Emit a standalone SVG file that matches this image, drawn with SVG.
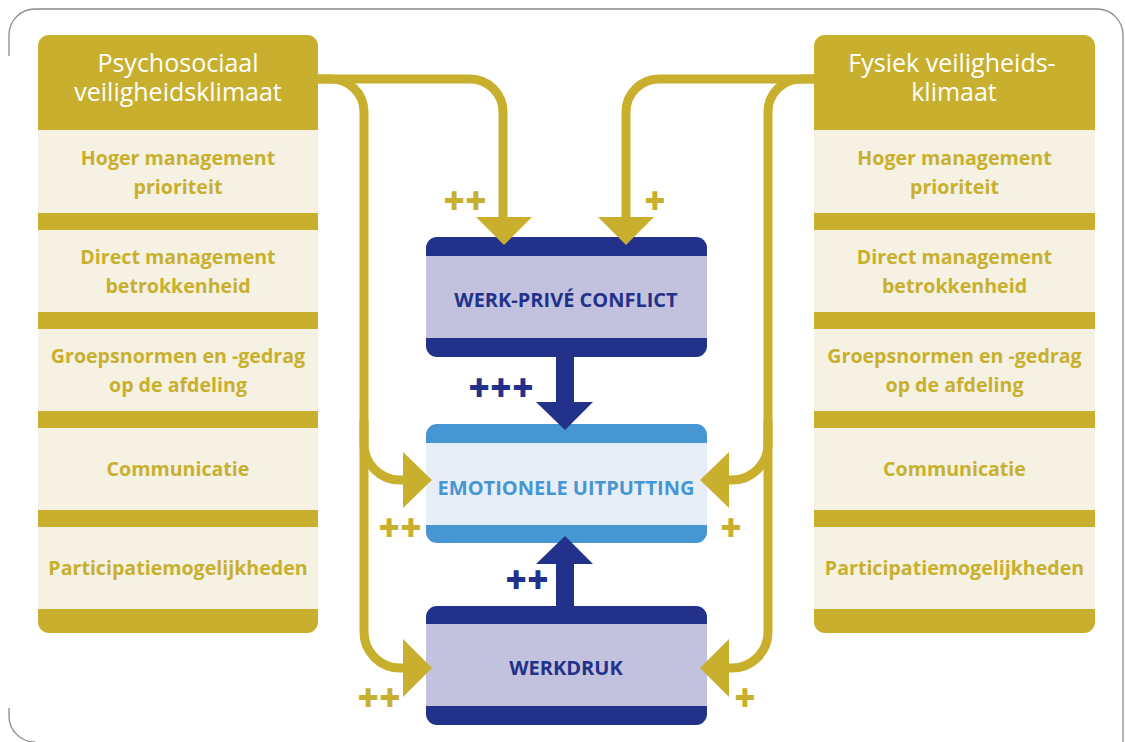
<svg xmlns="http://www.w3.org/2000/svg" width="1125" height="742" viewBox="0 0 1125 742">
<style>
.gold{fill:#c8b02e}
.cream{fill:#f5f1e3}
.hdr{font-family:"Open Sans","Liberation Sans",sans-serif;font-size:25px;fill:#ffffff;text-anchor:middle}
.item{font-family:"Open Sans","Liberation Sans",sans-serif;font-size:19.6px;font-weight:bold;fill:#c8b02e;text-anchor:middle}
.ctr{font-family:"Open Sans","Liberation Sans",sans-serif;font-size:20px;font-weight:bold;text-anchor:middle}
.line{fill:none;stroke:#c8b02e;stroke-width:9}
.plusg{font-family:"DejaVu Sans",sans-serif;font-weight:bold;font-size:26px;fill:#c8b02e;stroke:#c8b02e;stroke-width:1.8;text-anchor:middle}
.plusb{font-family:"DejaVu Sans",sans-serif;font-weight:bold;font-size:26px;fill:#22318a;stroke:#22318a;stroke-width:1.8;text-anchor:middle}
</style>
<rect width="1125" height="742" fill="#ffffff"/>
<path d="M9,56 V35 A26,26 0 0 1 35,9 H1097 A26,26 0 0 1 1123,35 V742 M9,708 V716 A26,26 0 0 0 35,742" fill="none" stroke="#8c8a8c" stroke-width="1.3"/>

<g id="left-panel">
<rect x="38" y="35" width="280" height="598" rx="11" class="gold"/>
<rect x="38" y="130" width="280" height="83" class="cream"/>
<rect x="38" y="230" width="280" height="82" class="cream"/>
<rect x="38" y="329" width="280" height="82" class="cream"/>
<rect x="38" y="428" width="280" height="82" class="cream"/>
<rect x="38" y="527" width="280" height="82" class="cream"/>
<text class="hdr" x="178" y="72">Psychosociaal</text>
<text class="hdr" x="178" y="101">veiligheidsklimaat</text>
<text class="item" x="178" y="165">Hoger management</text>
<text class="item" x="178" y="194">prioriteit</text>
<text class="item" x="178" y="264">Direct management</text>
<text class="item" x="178" y="293">betrokkenheid</text>
<text class="item" x="178" y="363">Groepsnormen en -gedrag</text>
<text class="item" x="178" y="392">op de afdeling</text>
<text class="item" x="178" y="476">Communicatie</text>
<text class="item" x="178" y="575">Participatiemogelijkheden</text>
</g>

<g id="right-panel">
<rect x="814" y="35" width="281" height="598" rx="11" class="gold"/>
<rect x="814" y="130" width="281" height="83" class="cream"/>
<rect x="814" y="230" width="281" height="82" class="cream"/>
<rect x="814" y="329" width="281" height="82" class="cream"/>
<rect x="814" y="428" width="281" height="82" class="cream"/>
<rect x="814" y="527" width="281" height="82" class="cream"/>
<text class="hdr" x="952" y="72">Fysiek veiligheids-</text>
<text class="hdr" x="954" y="101">klimaat</text>
<text class="item" x="954.5" y="165">Hoger management</text>
<text class="item" x="954.5" y="194">prioriteit</text>
<text class="item" x="954.5" y="264">Direct management</text>
<text class="item" x="954.5" y="293">betrokkenheid</text>
<text class="item" x="954.5" y="363">Groepsnormen en -gedrag</text>
<text class="item" x="954.5" y="392">op de afdeling</text>
<text class="item" x="954.5" y="476">Communicatie</text>
<text class="item" x="954.5" y="575">Participatiemogelijkheden</text>
</g>

<g id="werk-prive">
<rect x="426" y="237" width="281" height="120" rx="11" fill="#22318a"/>
<rect x="426" y="256" width="281" height="82" fill="#c2c2de"/>
<text class="ctr" x="566" y="307" fill="#22318a">WERK-PRIVÉ CONFLICT</text>
</g>

<g id="emotionele-uitputting">
<rect x="426" y="424" width="281" height="119" rx="11" fill="#4596d2"/>
<rect x="426" y="443" width="281" height="82" fill="#e7eef8"/>
<text class="ctr" x="566" y="495" fill="#4596d2">EMOTIONELE UITPUTTING</text>
</g>

<g id="werkdruk">
<rect x="426" y="606" width="281" height="119" rx="11" fill="#22318a"/>
<rect x="426" y="624" width="281" height="82" fill="#c2c2de"/>
<text class="ctr" x="566" y="675" fill="#22318a">WERKDRUK</text>
</g>

<g id="connectors">
<path class="line" d="M318,79 H470 A33,33 0 0 1 503,112 V220"/>
<polygon class="gold" points="476,217 532,217 504,245"/>
<path class="line" d="M814,79 H659 A33,33 0 0 0 626,112 V220"/>
<polygon class="gold" points="598,217 654,217 626,245"/>
<path class="line" d="M318,79 H330 A33,33 0 0 1 364,112 V632 A36,36 0 0 0 400,668 H406"/>
<path class="line" d="M364,420 V444 A36,36 0 0 0 400,480 H406"/>
<polygon class="gold" points="403,452 403,508 432,480"/>
<polygon class="gold" points="403,639 403,697 432,668"/>
<path class="line" d="M814,79 H801 A33,33 0 0 0 768,112 V632 A36,36 0 0 1 732,668 H726"/>
<path class="line" d="M768,420 V444 A36,36 0 0 1 732,480 H726"/>
<polygon class="gold" points="729,452 729,508 700,480"/>
<polygon class="gold" points="729,639 729,697 700,668"/>
<rect x="556" y="356" width="18" height="48" fill="#22318a"/>
<polygon points="536,402 593,402 565,430" fill="#22318a"/>
<rect x="556" y="562" width="18" height="45" fill="#22318a"/>
<polygon points="536,564 593,564 565,536" fill="#22318a"/>
<text class="plusg" x="465" y="209">++</text>
<text class="plusg" x="655" y="209">+</text>
<text class="plusg" x="400" y="536">++</text>
<text class="plusg" x="731" y="536">+</text>
<text class="plusg" x="379" y="706">++</text>
<text class="plusg" x="745" y="706">+</text>
<text class="plusb" x="501" y="396">+++</text>
<text class="plusb" x="527" y="588">++</text>
</g>
</svg>
